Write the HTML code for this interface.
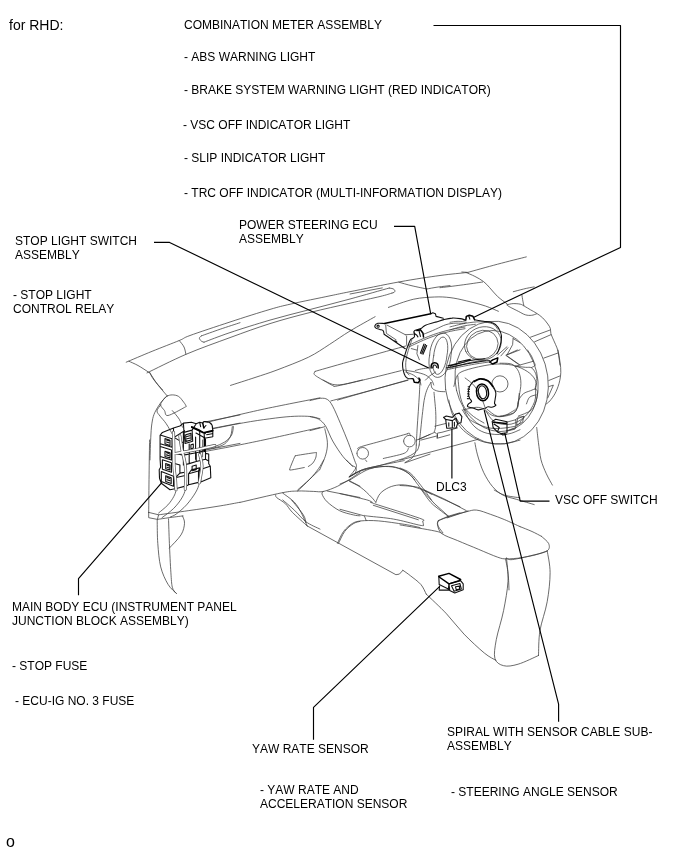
<!DOCTYPE html>
<html><head><meta charset="utf-8">
<style>
html,body{margin:0;padding:0;background:#fff;}
body{width:688px;height:852px;position:relative;overflow:hidden;font-family:"Liberation Sans",sans-serif;color:#000;}
.t{will-change:transform;position:absolute;font-size:12px;line-height:14px;white-space:nowrap;font-kerning:none;text-rendering:optimizeSpeed;}
svg{position:absolute;left:0;top:0;}
</style></head><body>
<svg width="688" height="852" viewBox="0 0 688 852" fill="none" stroke-linecap="round" stroke-linejoin="round">
<g stroke="#3a3a3a" stroke-width="0.75">
<path d="M126.2 362.2C130.5 360.4 143.2 354.9 152.1 351.3C160.9 347.7 173 343.1 179.3 340.5C185.6 337.9 181.6 338.6 190 335.5C198.4 332.4 216.7 326.4 230 322C243.3 317.6 259.8 312.4 270 309.4C280.2 306.4 281 306.3 291 304C301 301.7 320.2 297.9 330 295.8C339.8 293.8 338.4 294 350 291.7C361.6 289.4 384.8 284.5 399.8 281.8C414.8 279.1 428.9 277 440 275.5C451.1 274 461.8 273.1 466.2 272.6
M129 361.3C130.5 362 134.7 363.7 138 365.5C141.3 367.3 147 371.2 148.8 372.3
M149.5 372.3C150.2 373.6 151.8 377.1 154 380C156.2 382.9 161.2 388.3 162.7 390
M147 372.9C153.6 369.8 172.5 360.1 186.3 354.2C200.1 348.3 216.1 342.7 230 337.6C243.9 332.5 256.7 327.8 270 323.6C283.3 319.4 296.7 315.9 310 312.5C323.3 309.1 338.3 305.9 350 303.2C361.7 300.5 373 298.2 380 296.5C387 294.8 389.9 293.7 391.9 293.1
M391.9 293.1C392.3 293 393.7 292.7 394.2 292.3C394.7 291.9 395.1 291.3 394.9 290.7C394.7 290.1 394.1 289.2 393.1 288.8C392.2 288.3 389.9 288.2 389.3 288.1
M389.3 288C382.8 289.8 363.2 295.4 350 299C336.8 302.6 323.3 306 310 309.5C296.7 313 283.3 316.2 270 320.1C256.7 324 241 328.9 230 332.6C219 336.3 208.3 340.6 204 342.2
M204 342.2C203.6 342.1 202.3 341.8 201.6 341.3C200.9 340.8 200.1 339.9 199.8 339.3C199.4 338.7 199.2 338.1 199.5 337.6C199.8 337 201.3 336.1 201.6 335.8
M201.6 335.8C204.7 334.7 213.8 331.4 220.2 329.2C226.6 327 236.7 323.8 240 322.7
M350.1 294L382.3 287.9
M179.3 340.6C180.1 341.7 182.9 344.7 184 347C185.1 349.3 185.6 353 185.9 354.2
M398.9 282.2C401.1 282.8 407.3 284.7 412 285.8C416.6 286.9 424.3 288.4 426.8 289
M426.8 289C428.7 288.6 434.3 287.6 438.1 287C442 286.5 448 285.9 450 285.6
M388.4 307.4C392.6 306 406 300.9 413.7 299.2C421.4 297.5 428.6 297.3 434.7 297C440.8 296.7 444.8 297 450 297.6C455.2 298.2 460.3 299.4 466.2 300.8C472.1 302.2 480 304.2 485.4 306C490.8 307.8 496.2 310.4 498.4 311.3
M230.5 385.4C234.6 384.1 247.2 380.1 255 377.5C262.8 374.9 268.1 373.4 277 370C285.9 366.6 299.8 361.4 308.5 357.2C317.2 352.9 322.5 348.9 329.4 344.5C336.3 340.1 342.4 335.6 350 331C357.6 326.4 370.9 319.1 375.1 316.7
M461.8 272L467.9 272.4
M467.9 272.4C472.8 271 487.8 266.8 497.6 264.2C507.3 261.6 521.5 258.1 526.3 256.9
M466.2 272.6C467.6 273.2 472 274.9 474.9 276.4C477.8 277.9 481.1 279.7 483.6 281.6C486.1 283.5 487.4 285.3 489.7 287.7C492 290.2 494.7 293.8 497.6 296.5C500.5 299.2 505.6 302.7 507.2 304
M440 287.7C443.5 287.3 453.8 286.1 460.9 285.1C468.1 284.2 479.1 282.5 482.7 282
M507.1 304.7C508.1 304.5 511 303.7 513.2 303.6C515.4 303.6 518.5 303.7 520.3 304.2C522.2 304.6 522.7 305.3 524.4 306.2C526.1 307.1 528.5 308.6 530.5 309.8C532.6 310.9 534.6 312 536.6 313.3C538.7 314.7 540.9 316.1 542.7 317.9C544.6 319.7 546.5 322.2 547.8 324C549.1 325.8 549.9 327 550.4 328.6C550.9 330.2 550.3 331.6 550.9 333.7C551.5 335.7 552.9 338.4 553.9 340.8C554.9 343.2 556.2 345.7 557 347.9C557.7 350.1 558.2 353 558.5 354
M507.1 305.2C507.6 305.5 508.3 306.2 510.2 307.2C512 308.2 515.8 310 518.3 311.3C520.9 312.6 523.2 314.2 525.4 314.8C527.6 315.5 529.7 315.5 531.5 315.3C533.4 315.2 535.8 314.1 536.6 313.8
M513.3 291.7C515 291.3 520.2 289.8 523.7 289C527.2 288.1 532.4 287.2 534.2 286.9
M521.9 295C522 296 522.6 299.3 522.9 301.1C523.2 302.9 523.7 304.9 523.9 305.7
M149.7 372.6C151 374.5 154.6 380.6 157.5 384.4C160.4 388.3 165.5 393.9 167.1 395.8
M167.1 396.1C168.6 395.3 170.4 394.9 172.3 394.9C174.2 394.9 176.7 395.3 178.4 396.3C180.2 397.3 181.5 399.4 182.8 401C184 402.6 185.6 404.6 185.9 405.7C186.2 406.8 187.5 405.8 184.5 407.4C181.5 409.1 171.3 414.9 168 415.5C164.6 416 165.7 412.3 164.5 410.6C163.3 408.8 160.8 406.8 160.6 405C160.4 403.2 162.2 401.2 163.3 399.8C164.3 398.3 165.6 396.9 167.1 396.1Z
M165.7 397C164.8 398.1 161.9 401 160.1 403.6C158.3 406.2 156.2 409.4 154.9 412.3C153.6 415.2 152.9 417.3 152.3 421C151.6 424.8 151.2 428.5 150.9 435C150.5 441.5 150.1 455.8 150 459.9
M160.6 405C160 406 157.1 409.1 157 410.9C156.9 412.8 158.6 414 160.1 416.2C161.7 418.3 164.2 420.7 166.2 423.7C168.3 426.7 171.3 432.4 172.3 434.1
M172.3 410.6C173.5 412 177.6 416.5 179.3 419.3C181 422.1 181.9 425.8 182.4 427.2
M205.5 421.9L240 414.9
M212.4 428.4L240 423.1
M233.4 426.6C233.1 428 233.1 432.4 231.6 435C230.2 437.6 227.6 440 224.7 442C221.7 443.9 218 445.5 214.2 446.7C210.4 447.9 204 448.9 202 449.3
M202 450.7L240 443.4
M202.6 440L202.6 456.9
M175.5 480.1C175.6 481.7 176.3 487 176 489.8C175.7 492.6 175 494.2 173.7 496.7C172.3 499.2 170.4 502.2 167.9 504.9C165.4 507.6 160.2 511.6 158.6 513
M185.7 477.8C185.6 479.7 185.9 485.9 185.3 489.2C184.7 492.5 183.8 494.7 181.9 497.9C180 501.1 177 505.1 173.7 508.4C170.4 511.7 163.9 516.2 162 517.7
M202 466.2C201.6 469 200.3 478.5 199.3 482.8C198.3 487.1 197.9 488.4 195.8 492.1C193.7 495.8 189.8 501.2 186.5 504.9C183.2 508.6 178.7 512.2 176 514.2C173.3 516.2 171.2 516.5 170.2 517
M207 422.3C216 420.2 242.2 413.8 261 409.7C279.9 405.6 310.2 399.8 320 397.8
M213.1 428.7C218.2 427.7 234.2 424.4 243.6 422.8C253.1 421.1 261.9 419.8 269.8 418.8C277.6 417.7 284.9 416.9 290.7 416.5C296.5 416.1 300.9 416.1 304.7 416.2C308.4 416.2 310.8 416.6 313.4 417C315.9 417.5 318.9 418.5 320 418.8
M232.3 426.6C232 428.2 231.8 433.3 230.5 436.2C229.2 439.1 227.2 442.1 224.4 444.1C221.7 446 218 446.9 214 447.9C209.9 448.9 202.3 449.8 200 450.2
M200 452.4C208.7 450.8 232.3 446.5 252.3 442.3C272.3 438.2 308.7 430 320 427.5
M304.3 467.5C302.2 467.9 294 469.6 291.6 469.9C289.3 470.3 290.5 470 290.2 469.8C289.9 469.6 289.1 470.8 289.8 468.7C290.5 466.6 293.6 459.2 294.5 457.1C295.5 455 295 456.3 295.4 456C295.8 455.7 293.5 456 296.7 455.5C299.9 454.9 311.5 453.1 314.7 452.7C318 452.3 315.9 452.7 316.1 452.9C316.4 453.1 316.4 453.1 316.3 454C316.3 454.8 316.2 456.6 315.6 458.2C315 459.7 313.9 461.9 312.7 463.3C311.5 464.6 309.1 466 308.3 466.5
M297.7 489.9C299.7 488.1 306.2 482.4 309.9 479C313.6 475.5 318.3 471 320 469.4
M323.1 380C324.7 380.7 329.3 383.6 332.7 384.4C336 385.1 338.2 385.1 343.1 384.4C348.1 383.6 359.1 380.7 362.3 380
M310 400.6C311.7 400.2 317.6 398.5 320.5 398.3C323.4 398.1 325.4 398.2 327.4 399.5C329.5 400.8 330.5 402.2 332.7 406.2C334.9 410.2 337.9 417.5 340.5 423.6C343.1 429.7 346 436.7 348.4 442.8C350.7 448.9 353.2 456.2 354.5 460.2C355.8 464.3 357.1 464.4 356.2 467.2C355.3 470 350.4 475.2 349.2 476.8
M330.9 400.9C337.3 399.2 356.5 394.3 369.3 390.8C382.1 387.3 401.3 381.8 407.7 380
M310 416.6C311.5 417.1 316.1 417.6 318.7 419.2C321.3 420.8 323.4 422.6 325.7 426.2C328 429.9 329.8 436 332.7 441C335.6 446.1 339.8 452.5 343.1 456.7C346.5 461 351.1 464.7 352.7 466.3
M310 430.6L324.8 426.7
M319.9 469.3C320.9 466.9 324.4 459.4 325.7 455C326.9 450.6 327.6 447.2 327.4 442.8C327.3 438.4 325.3 431.2 324.8 428.8
M356.9 453.3a5.8 5.8 0 1 0 11.6 0a5.8 5.8 0 1 0-11.6 0M403.6 441.1a5.8 5.8 0 1 0 11.6 0a5.8 5.8 0 1 0-11.6 0
M358.8 449.8C359 449.3 355.6 448.7 359.7 447.2C363.8 445.6 375.3 442.8 383.3 440.5C391.2 438.3 403.6 434.9 407.7 433.7
M407.7 433.7C408 433.6 409 432.8 409.4 433.2C409.9 433.5 410.1 435.4 410.3 435.8
M383.3 458.5C386.7 457.6 400 455 404.2 453.3C408.4 451.5 407.8 448.9 408.5 448
M365.5 459.9L366.7 461.5
M349.2 476.8C351.4 475.6 357.2 471.7 362.3 469.8C367.4 467.9 374 466.8 379.8 465.5C385.6 464.2 393.1 462.8 397.2 462C401.3 461.2 403 460.8 404.2 460.6
M416.4 440.2L430 434.4
M405.1 462.8L430 454.1
M350.1 479.9C353.3 478.1 362.9 471.2 369.3 469C375.7 466.7 383.3 466.3 388.5 466.3C393.7 466.3 397.2 467.6 400.7 469C404.2 470.3 407.1 472.4 409.4 474.2C411.7 476 413.8 479 414.7 479.9
M406.4 345.8C398.8 347.9 375.6 354.3 361 358.4C346.5 362.4 326.8 368 319.2 370.2C311.6 372.4 316.2 371.1 315.3 371.6C314.5 372.2 314 372.7 314 373.4C314 374 314.2 374.5 315.3 375.5C316.5 376.4 318.3 377.4 320.9 379C323.6 380.5 329.2 383.7 331.4 384.9C333.6 386 333 385.8 334 385.9C335 386.1 331.5 387.2 337.5 385.9C343.5 384.7 359.2 381 369.8 378.4C380.4 375.9 395.9 371.9 401.2 370.6
M337.5 400.1C343.5 398.3 361.5 393.1 373.3 389.8C385 386.5 402.3 381.8 408.1 380.2
M385.7 324.9L386.4 333.4L396.2 339.9
M387 325.1L405.3 334.7
M406.6 336L406.6 344.5
M405.3 334.7L413.2 334.3
M411.8 339.9C411.5 340.7 410.9 342.7 410.3 344.5C409.7 346.3 408.9 348.2 408.2 350.6C407.5 353 406.6 356.2 406.2 358.8C405.8 361.3 405.6 363.7 405.7 365.9C405.8 368.1 406.1 370.5 406.7 372C407.3 373.5 408.8 374.5 409.2 375
M423.5 334.3C425.5 333.5 432 330.9 435.7 329.2C439.4 327.6 442.5 325.7 445.9 324.7C449.3 323.6 452.9 323.3 456 323.1C459.2 323 463.5 323.6 465 323.6
M408.2 345.5C411.6 344 422 338.9 428.6 336.4C435.2 333.8 441.8 331.8 447.9 330.3C454 328.7 462.2 327.5 465 327
M408.7 347C412.1 345.5 422.5 340.4 429.1 337.9C435.7 335.3 442.4 333.3 448.4 331.8C454.4 330.3 462.2 329.2 465 328.7
M450 322.3C451.4 322.1 455.4 321.3 458.1 321.3C460.9 321.3 464.9 322.1 466.3 322.3
M450 326.9C452.5 326.3 460.2 324.2 465.3 323.3C470.3 322.5 475.9 321.7 480.5 321.8C485.1 321.9 489.8 322.6 492.7 323.8C495.6 325.1 497 328.5 497.8 329.4
M450 329.9C452.4 329.2 460 326.8 464.2 325.9C468.5 324.9 473.6 324.6 475.4 324.3
M417.9 345.5L416.9 353.7L419.4 359.8
M411.3 348.6L416.9 350.1
M429.6 355.2a10.7 19.6 10 1 0 21.4 0a10.7 19.6 10 1 0-21.4 0M433.7 355.7a6.6 16.3 10 1 0 13.2 0a6.6 16.3 10 1 0-13.2 0
M467.8 351.6a16 13.8 -25 1 0 29.0 -13.5a16 13.8 -25 1 0 -29.0 13.5
M465.8 351.5a18.8 16.4 -25 1 0 34.1 -15.9a18.8 16.4 -25 1 0 -34.1 15.9
M428.6 367.9C427.4 368.1 423.7 368.5 421.5 368.9C419.2 369.3 416.4 370.2 415.3 370.5
M435.7 372C434.7 372.7 431.3 374.7 429.6 376C427.9 377.4 426.2 379.4 425.5 380.1
M403.1 369.9C405.2 370.3 411.6 371.1 415.3 372C419.1 372.8 422.8 373.7 425.5 375C428.2 376.4 430.3 378.5 431.6 380.1C433 381.8 433.3 384.2 433.7 385
M405.7 372C407 372.5 411 373.7 413.3 375C415.6 376.4 418.1 378.5 419.4 380.1C420.7 381.8 420.7 384.2 420.9 385
M450 368.1C453.4 367.1 464.4 363.8 470.3 362.5C476.3 361.2 483.1 360.8 485.6 360.5
M447.1 369.7C451.2 368.8 464.3 365.9 471.5 364.7C478.7 363.4 487 362.3 490.1 361.9
M497.8 354.9L507 346.7
M500.9 355.9L508 347.7
M507 354.9L520 349.8
M507 355.9L520 365
M513.1 338.6L520 342.6
M513.1 338.6L512.6 344.7L507 354.9
M445.6 389.5a51.5 61.7 -7.6 1 0 102.1 -13.6a51.5 61.7 -7.6 1 0 -102.1 13.6
M456.5 390.3a41.1 51.0 -13 1 0 80.1 -18.5a41.1 51.0 -13 1 0 -80.1 18.5
M465.1 378C466.7 379.3 471.7 382.5 474.5 386C477.3 389.5 480 395.4 481.8 399C483.6 402.6 484.6 406.3 485.1 407.8
M491.8 383.9a8.1 8.1 0 1 0 16.2 0a8.1 8.1 0 1 0-16.2 0
M453.9 386.4C454.6 384.4 455.5 377.5 457.8 374.6C460.2 371.8 463.1 371 468.3 369.4C473.5 367.8 483.1 365.7 489.2 364.8C495.3 363.9 500.1 363.8 504.9 364.2C509.7 364.5 513.9 365.2 518 366.8C522.2 368.3 526.9 370.9 529.8 373.3C532.7 375.7 534.8 378.5 535.7 381.2C536.6 383.8 535.1 387.9 535 389.3
M515.4 409.3C515 409.6 515 410.1 512.8 411.2C510.6 412.4 505.8 415.8 502.3 416.5C498.8 417.1 494.9 416.4 491.9 415.2C488.9 413.9 485.5 409.9 484.3 408.9
M457.8 375.9C458.2 379 458.7 389 459.8 394.2C460.9 399.5 462.1 403.6 464.4 407.3C466.7 411 470.3 413.9 473.5 416.5C476.8 419.1 482.3 421.9 484 423
M463.1 409.9C465.3 409.5 472.7 407.5 476.2 407.3C479.7 407.2 482.7 408.6 484 408.9
M558.5 354L560 365
M558 350C558.3 352 559.6 358.5 560 362.2C560.5 365.9 561 368.8 560.8 372.4C560.7 375.9 560 380 559 383.6C558 387.1 556.5 390.9 554.9 393.8C553.4 396.6 551.3 399.2 549.9 400.9C548.4 402.6 546.9 403.4 546.3 403.9
M530.5 337.2L549.9 330.1
M534.6 341.8L550.9 334.7
M543.8 358.1L558 353
M548.8 380.5L560 375.9
M548.8 386.6L553.4 385.1L547.8 397.8
M506.1 355.1L517.3 350
M506.1 355.6L518.3 364.2
M515.3 366.3L533.6 361.2
M500 363.2C501.7 363.3 507.6 363.1 510.2 363.7C512.7 364.3 513.7 365.2 515.3 366.8C516.8 368.4 518.4 370.6 519.3 373.4C520.3 376.2 520.9 379.8 520.9 383.6C520.9 387.3 519.9 391.9 519.3 395.8C518.7 399.7 518.3 404.1 517.3 407C516.3 409.9 516.1 411.6 513.2 413.1C510.3 414.6 502.2 415.6 500 416.1
M527.5 350C528.1 351 530.5 354.2 531.5 356.1C532.6 358 533 359.7 533.6 361.2C534.2 362.7 535.4 364.2 535.1 365.3C534.8 366.3 532.1 367.1 531.5 367.5
M515.3 366.3C517 366.4 522.7 367 525.4 367.3C528.1 367.6 529.8 366.8 531.5 367.8C533.2 368.8 534.7 371.3 535.6 373.4C536.5 375.5 536.8 378 536.8 380.5C536.8 383.1 535.8 387.3 535.6 388.7
M517.8 407C517.9 406 517.4 403.1 518.3 400.9C519.2 398.7 521.4 395.4 523.4 393.8C525.4 392.1 528.5 391.5 530.5 390.7C532.6 389.9 534.4 388.8 535.6 389.2C536.8 389.5 537.6 390.8 537.6 392.7C537.7 394.7 537.1 398 536.1 400.9C535.1 403.8 534.5 407.5 531.5 410C528.6 412.6 520.5 415.1 518.3 416.1
M526.5 403.9C527 402.8 527.9 398.8 529.5 397.3C531.1 395.8 535 395.2 536.1 394.8
M515.3 420L518.3 417.2L524.4 416.6L522.4 420
M535.6 388.7C535.4 390.9 536.3 397.1 534.6 401.7C532.9 406.2 529.4 412.3 525.5 416C521.6 419.7 516.3 423.1 511.2 424.1C506.1 425.1 499.1 424.3 494.9 422.1C490.7 419.9 487.3 412.8 485.8 410.9
M462.4 409.9C463.8 411.6 465.8 417.1 470.5 420.1C475.2 423.2 483.4 427.2 490.9 428.2C498.4 429.2 510.2 427.5 515.3 426.2C520.4 424.9 520.4 421.1 521.4 420.1
M536.7 427.5C537 430 537.7 436.9 538.4 442.3C539.2 447.7 539.7 454.5 541 459.8C542.4 465 544.4 469.5 546.3 473.7C548.2 477.9 551.4 483.2 552.4 485.1
M517.5 418.8L523.6 416.2L522.7 422.3L516.6 424.9L517.5 418.8
M506.2 422.3L515.8 419.7L515.8 427.5L506.2 431
M487 409.2C488.7 410.3 493.4 415.3 497.4 416.2C501.5 417 508.1 415.9 511.4 414.4C514.7 413 516.2 410.9 517.5 407.4C518.8 404 519 395.8 519.2 393.5
M507 431L514.9 429.2L515.8 427.5
M420 379C419.9 381.5 419.7 388.6 419.4 394.1C419.1 399.5 418.6 405.7 418.3 411.5C417.9 417.3 417.4 423.4 417.1 429C416.8 434.5 416.4 442.3 416.3 445
M416.3 445C416.2 446.2 416.2 449.8 415.5 452C414.8 454.2 413.8 456.2 412 458C410.2 459.8 406.2 461.8 405 462.5
M431 382.4C430.5 383.4 428.6 385.7 427.6 388.3C426.5 390.8 425.5 393.7 424.7 397.6C423.8 401.4 423.3 406.3 422.7 411.5C422 416.7 421.4 423.4 420.8 429C420.2 434.5 419.5 442.3 419.2 445
M419.2 445C418.9 445.8 418.5 448.5 417.5 450C416.5 451.5 414.6 452.9 413 454C411.4 455.1 409.8 455.8 407.7 456.7C405.6 457.6 405.3 457.9 400.7 459.4C396.1 460.9 386.2 463.8 379.8 465.5C373.4 467.2 367.4 467.9 362.3 469.8C357.2 471.7 351.4 475.6 349.2 476.8
M434 392.3C434.2 395.5 435.4 406 435.7 411.5C436 417 435.9 422.2 435.7 425.5C435.5 428.8 434.7 430.3 434.5 431.3
M431 382.4C431.2 383.4 431 386.8 432.2 388.3C433.4 389.7 435.9 390.6 438 391.2C440.2 391.7 443.8 391.6 445 391.7
M418.8 439.4L434.5 432.4
M434.5 431.9L437.4 434.8L436.9 438.3L449.7 434.8
M434.9 426.2L445.7 423.5
M437.5 437.5L437.5 433.1L441.9 432.3L457.6 427.9
M400 460.2L478.5 439.2
M420.9 440.1L437.5 435.8
M448.8 400C449.4 402.3 450.3 409.3 452.3 414C454.4 418.6 457.6 424 461 427.9C464.5 431.8 468.9 435 473.3 437.5C477.6 440 482 441.7 487.2 442.7C492.4 443.8 499.2 444 504.7 443.6C510.1 443.2 517.4 440.7 520 440.1
M463.7 408.7C464.7 410.8 467.3 417.4 469.8 420.9C472.2 424.4 475 427.5 478.5 429.7C482 431.8 485.8 433.3 490.7 434C495.6 434.7 503.3 434.7 508.1 434C513 433.3 518 430.4 520 429.7
M474.9 442.7C475.3 444.7 476.1 450 477.5 454.9C478.9 459.8 481.1 467.1 483.6 472.3C486.1 477.5 489.1 482.5 492.3 486.3C495.5 490.1 498.7 492.8 502.8 495C506.9 497.2 511.5 497.8 516.7 499.4C521.9 501 531.3 503.7 534.2 504.6
M400 468C401.7 468.9 407 470.3 410.5 473.3C414 476.2 417.4 481 420.9 485.5C424.4 489.9 429.7 497.5 431.4 499.9
M400 485.5C402.9 485.8 412.2 485.8 417.4 487.2C422.7 488.7 429.1 493 431.4 494.2
M149.6 440C149.5 445.8 149.2 462.8 149.1 474.9C148.9 486.9 148.8 506.1 148.7 512.4
M148.7 512.4L148.7 517.7L157.4 519.4L158.6 514.8L148.7 512.4
M157.4 519.4C159.4 519.1 164.8 518.3 169.1 517.7C173.3 517.1 180.7 516.2 183 515.9
M158.7 514.8C163.7 514.1 178.6 512.1 188.8 510.6C199.1 509.2 211.5 507.3 220.1 505.9C228.6 504.5 236.6 502.9 239.9 502.3
M157.2 520.3C157.3 524.2 157.2 535.9 157.8 543.6C158.4 551.4 159 560.1 160.7 566.9C162.4 573.6 165.3 579.8 168 584.3C170.6 588.8 175.2 592.1 176.7 593.6
M168.5 518.9C168.7 523 169 534.6 169.4 543.6C169.8 552.6 170.4 565.4 170.9 572.7C171.4 579.9 171.5 583.8 172.3 587.2C173.1 590.6 175.2 592.1 175.8 593
M182.5 516C182.8 517.2 184.8 520.1 184.5 523.3C184.3 526.4 183.6 530.8 181 534.9C178.5 539 171.4 545.8 169.4 548
M282.8 500C284.7 501.7 290.5 506.5 294.4 510.2C298.3 513.8 301.8 518.7 306 521.8C310.3 525 317.7 527.9 320 529.1
M291.5 500C293.4 502.4 300.7 510.8 303.1 514.5C305.6 518.3 305.6 521.3 306 522.7
M240 502.4C247 500.8 272.3 494.7 281.9 492.8C291.5 490.9 292.3 491.3 297.6 491C302.8 490.8 308.9 491.3 313.3 491.4C317.6 491.5 319.7 492.3 323.7 491.4C327.8 490.5 333.3 488.2 337.7 486.2C342 484.1 346.2 481.5 349.9 479.2C353.6 476.9 358.3 473.4 360 472.2
M297.6 491C299.6 489.1 306.3 482.9 309.8 479.2C313.3 475.5 316.2 471.9 318.5 468.7C320.8 465.5 322.8 461.5 323.7 460
M323.7 491.4C323.4 491.8 321.4 492.3 322 494C322.6 495.8 324.3 499.1 327.2 501.9C330.1 504.6 335.1 508.4 339.4 510.6C343.8 512.8 349.9 514.1 353.4 514.9C356.8 515.8 358.9 515.7 360 515.8
M327.2 491L360 497.5
M275.8 494.9C275.9 495.3 275 496 276.6 497.5C278.2 499 282.7 501.1 285.3 503.6C288 506.1 288.7 508.6 292.3 512.3C296 516 304.7 523.7 307.2 525.9
M282.7 493.1C284.6 494.6 291 498.7 294.1 501.9C297.1 505.1 298.9 508.3 301 512.3C303.2 516.3 306.1 523.7 307.2 525.9
M338.5 543.4C339.6 541.4 342.2 534.8 344.7 531.5C347.1 528.2 350.8 525.3 353.4 523.7C355.9 522 358.9 521.8 360 521.4
M346.4 460C347.3 460.9 350 463.9 351.6 465.2C353.2 466.5 355.4 466.5 356 467.8C356.6 469.2 356.2 471.6 355.1 473.1C354 474.5 350.5 476 349.5 476.6
M349 480.6L360 486.2
M349.6 477C351.5 476 356.7 472.5 360.9 470.9C365.1 469.3 370.2 468.2 374.9 467.4C379.5 466.7 384.5 466.3 388.8 466.6C393.2 466.9 397.6 467.9 401 469.2C404.5 470.5 407.2 472.1 409.8 474.4C412.4 476.7 414.9 480.7 416.7 483.1C418.6 485.6 418.8 486 421.1 489.2C423.4 492.4 427.4 498.7 430.7 502.3C434 506 438.3 508.7 441.2 511C444.1 513.4 447 515.4 448.1 516.3
M375.8 502.3C376.5 500.9 377.9 496.1 380.1 493.6C382.3 491.1 385.6 489 388.8 487.5C392 486 395.8 485.2 399.3 484.9C402.8 484.6 406.1 485 409.8 485.8C413.4 486.5 419.2 488.7 421.1 489.2
M421.1 489.2L460 506.7
M340 484L350.5 479.7
M349.6 481.4C351.5 482.4 357.3 484.9 360.9 487.5C364.6 490.1 368.9 494.6 371.4 497.1C373.9 499.6 375 501.5 375.8 502.3
M340 493.6C344.4 494.6 360.8 498.3 366.2 499.7C371.5 501.2 371.2 501.9 372.3 502.3
M340 509.3L364.4 515.9L366.2 520.6
M448.1 516.3L460 512.8
M448.1 516.3C446.8 516.9 442 518.8 440.3 519.8C438.5 520.8 438 521.2 437.7 522.4C437.4 523.5 437.7 525 438.5 526.7C439.4 528.5 442.2 531.8 442.9 532.8
M371.8 502.4C372.3 502.6 366.7 501.1 374.7 503.8C382.7 506.5 411.8 515.4 419.8 518.3C427.8 521.2 422.1 520.1 422.7 521.2C423.3 522.4 423.3 524.5 423.4 525.2
M373.3 505.3L418.3 519.8
M364.5 515.4C365.3 515.6 364.1 515.6 368.9 516.2C373.7 516.8 385.4 517.6 393.6 519.1C401.8 520.5 413.3 523.8 418.3 524.9C423.3 526 422.6 525.5 423.4 525.6
M307 525.8L395.9 574.7L399.4 574.1L402.9 570.3
M337.5 543.3C338.5 541.3 341.1 534.7 343.6 531.4C346.1 528.1 349.4 525.3 352.3 523.5C355.2 521.8 356.7 521.4 361 520.9C365.4 520.5 371.2 520.3 378.5 520.9C385.8 521.5 397.7 523.3 404.7 524.4C411.6 525.5 417.4 527 420 527.6
M438.4 520.5C440.4 519.8 445.9 517.6 450.6 516.2C455.2 514.7 461.9 512.8 466.3 511.8C470.6 510.8 472.7 509.6 476.7 510.1C480.8 510.5 486 512.8 490.7 514.4C495.3 516 499.8 517.6 504.7 519.7C509.5 521.7 517.4 525.5 520 526.6
M447.1 517.9L468 510.9
M438.4 520.5C438.2 521.2 436.9 522.7 437.5 524.9C438.1 527.1 438.5 531 441.9 533.6C445.2 536.2 451.5 538 457.6 540.6C463.7 543.2 471.8 546.5 478.5 549.3C485.2 552.1 493 555.6 497.7 557.2C502.3 558.8 502.7 558.8 506.4 558.9C510.1 559 517.7 558.2 520 558
M421.8 490L434.9 504L448.8 516.5
M424.4 490L443.6 498.7L466.3 510.6
M494.2 490C495.9 490.9 500.3 493.9 504.7 495.2C509 496.5 517.4 497.4 520 497.8
M505.5 558.9C506 561.4 507.6 568.5 508.1 573.7C508.7 578.9 508.9 587.2 509 589.9
M400 524.9C405.8 525.9 427.9 529.5 434.9 531C441.9 532.4 440.7 533.2 441.9 533.6
M402.9 570.3C404.2 571.2 407.5 573.4 410.5 575.8C413.5 578.2 418.3 581.5 420.9 584.5C423.5 587.5 425.3 592.5 426.2 594.1
M541.4 536.3C542.6 537.5 547.7 541.2 548.7 543.6C549.6 546 549.9 548.9 547.2 550.9C544.5 552.8 538.5 553.8 532.7 555.2C526.9 556.7 516.7 559.1 512.3 559.6C508 560.1 507.5 558.4 506.5 558.1
M506.5 558.1C506.8 562 508.4 572.7 508 581.4C507.5 590.1 505.5 600.8 503.6 610.5C501.7 620.2 497.8 631.5 496.3 639.5C494.9 647.5 493.7 654.1 494.9 658.4C496.1 662.8 499.7 664.7 503.6 665.7C507.5 666.7 512.3 665.9 518.1 664.2C524 662.5 535.1 657 538.5 655.5
M547.2 550.9C547.7 554.5 550.1 564.2 550.1 572.7C550.1 581.2 548.9 592.1 547.2 601.7C545.5 611.4 541.4 621.9 539.9 630.8C538.5 639.8 538.7 651.4 538.5 655.5
M426.2 594.1C429.6 597.4 440.2 607.1 446.5 613.8C452.8 620.5 457.7 627.6 464 634.1C470.3 640.6 479 648.6 484.3 653C489.6 657.4 494 659.1 495.9 660.3
M520 526.6C522 527.4 528.4 529.9 532 531.5C535.6 533.1 539.8 535.5 541.4 536.3
M520 558C522.5 557.5 530.5 556.2 535 555C539.5 553.8 545.2 551.6 547.2 550.9"/>
</g>
<g stroke="#111" stroke-width="1.1">
<path d="M160.1 435.3L162.4 432.4L173.5 428L179.9 426L183.4 423.1L191.5 422.2L196.2 423.7L199.7 422.2L202.6 423L204.1 421.5L209.2 422.2L212.1 425.2L212.8 430.6L212.8 436.7L204.4 438.3L205.5 439.4L205.5 453.4L208.7 454L208.7 463.8L210.3 466.2L210.8 477.8L200.8 481.9L198.5 482.4L188.6 484.8L186.3 485.9L176.4 488.5L170 489.7L161.3 483.3L159.5 478.4L159.2 469.7L160.6 467.3L160.1 459.2L160.1 435.3
M160.3 435L172 438.8L172 447.3L160.3 443.7
M165 438.6L170 440.2L170 445.5L165 443.8L165 438.6
M160.3 446.4L171.5 449.9L171.5 460.1L160.3 456.5
M165 451.3L170 452.7L170 458L165 456.5L165 451.3
M162.4 459.8L171.5 462.7L171.5 472.2L162.4 469.3L162.4 459.8
M165.7 463.5L170 464.9L170 470.1L165.7 468.7L165.7 463.5
M161.3 471.6L173.5 476.3L173.5 486.2L161.3 481.5L161.3 471.6
M165.7 475.7L171.2 477.8L171.2 483.6L165.7 481.5L165.7 475.7
M166.5 440L168.8 440.8
M166.5 442L168.8 442.8
M166.5 452.8L168.8 453.5
M166.5 454.9L168.8 455.6
M167.1 465.2L169.1 465.9
M167.1 467.3L169.1 468
M167.1 477.6L170 478.7
M167.1 479.7L170 480.8
M172 438.8L179.9 433.6L184.5 430.7
M173.5 437.1L183.4 442.9L183.4 431.3
M173.5 428L173.5 437.1
M184 432.4L192.1 430.1L192.7 441.2L185.1 443.5L184 432.4
M185.7 434.8L190.9 433.4L191.2 440L186 441.4L185.7 434.8
M186.9 436.5L189.8 435.7
M187.1 438.8L190 438
M183.4 423.1L184 432.4
M192.1 430.1L196.2 423.7
M191.5 426.6L199.7 430.1L205.5 433.6
M204.1 432.8L204.4 438.3L212.8 436.7L212.8 430.6
M202.6 423C202.8 422.8 203 421.6 204.1 421.5C205.2 421.4 207.8 421.6 209.2 422.2C210.5 422.8 211.5 423.8 212.1 425.2C212.7 426.6 212.7 429.7 212.8 430.6
M203.8 427.8L205.9 425.5
M206.6 432.4L212.1 431.4
M206.6 434.7L212.1 433.7
M196 433.1L204.1 437.6
M199.7 422.2L200.6 426.6
M195.6 437.1L195.6 459.2
M199.7 430.1L199.7 458
M189.2 444.1L189.2 453.4
M190.9 444.7L193.3 444.1L193.3 448.1L190.9 448.7L190.9 444.7
M183.4 442.9L183.4 453.4
M175.5 453.4L183.4 455.1L196.2 452.8L205.5 450.5
M175.5 463.8L179.9 465L179.9 473.1
M183.4 455.1L183.4 465L189.2 463.6L189.2 455.1
M189.2 463.6L196.2 461.5L196.2 452.8
M196.2 461.5L205.5 459.2L208.7 460.9
M192.1 466.2L196.2 465L196.2 469.7L192.1 470.8L192.1 466.2
M175.2 477.8L186.3 475.2L186.3 485.9
M175.2 477.8L175.2 488.5
M175.2 477.8L179.9 473.1L186.3 472L186.3 475.2
M188.6 473.7L198.5 471L198.5 482.4
M188.6 473.7L188.6 484.8
M188.6 473.7L191.5 469.7L199.7 467.9L198.5 471
M199.7 469.7L210.1 466.2
M199.7 469.7L200.8 481.9
M179.9 473.1L179.9 465
M205.5 453.4L205.5 459.2
M384.4 323.5C383.3 323.5 379.4 323 377.8 323.3C376.3 323.6 375.3 324.7 375 325.5C374.6 326.3 375.1 327.5 375.9 328.1C376.7 328.8 378.6 329 379.8 329.4C381 329.9 382.4 329.9 383.1 330.7C383.8 331.5 384 333.7 384.1 334.3
M377 326.2a1.1 1.1 0 1 0 2.2 0a1.1 1.1 0 1 0-2.2 0
M384.1 334.3L405.3 348.7
M394.9 340.8L396.8 341.9
M430.8 313.7L432.8 312.8L435.4 313.7L436.1 316.4
M436.1 316.4L443.3 318.3
M413.8 331.8C414.1 331.5 414.1 330.9 415.3 330.3C416.6 329.7 419.8 329.1 421.5 328.2C423.1 327.4 423.1 326.2 425.5 325.2C427.9 324.2 432.6 323.1 435.7 322.1C438.8 321.2 441.1 320.3 443.8 319.6C446.6 318.9 449.3 318.2 452 318.1C454.7 317.9 457.9 318.3 460.1 318.6C462.3 318.9 464.2 319.7 465 319.9
M464 320.3L465.3 320.3
M474.4 319.8C475.9 320 480.9 320.9 483.6 321.3C486.3 321.7 488.7 321.7 490.7 322.3C492.7 322.9 494.3 323.7 495.8 324.8C497.2 326 498.4 327.6 499.3 329.4C500.3 331.2 501.1 333.3 501.4 335.5C501.6 337.7 501.3 340.3 500.9 342.6C500.4 345 499.5 347.9 498.8 349.8C498.2 351.6 497.1 353.2 496.8 353.8
M468.8 316L469.8 319.2
M413.8 331.8L414.8 333.8L416.9 335.3L417.9 336.9
M418.9 330.3L420.4 336.4
M413.8 331.8C413.9 332.6 414.8 335.6 414.3 336.9C413.8 338.1 411.6 338.5 410.8 339.4C409.9 340.4 409.8 341.1 409.2 342.5C408.7 343.8 408 345.4 407.2 347.6C406.4 349.8 405.4 353.2 404.7 355.7C403.9 358.2 402.9 360.4 402.6 362.8C402.4 365.2 402.7 367.7 403.1 369.9C403.6 372.1 404.3 374.6 405.2 376C406 377.5 407 378.2 408.2 378.6C409.5 379 412 378.6 412.8 378.6
M425.5 344.5L421.7 353.7
M424 344L420.4 353.2
M426.7 345.5L423 354.2
M432.6 367.9C432.8 367.5 433.2 365.8 433.7 365.4C434.2 364.9 435.2 365 435.7 365.4C436.2 365.7 436.5 367.1 436.7 367.4
M450 366C453.4 365.1 464.6 361.7 470.3 360.5C476.1 359.2 482.2 359 484.6 358.7
M458.1 362L470.3 359.4
M447.9 365.9C449.3 365.5 453.2 364.5 456 363.8C458.9 363.2 463.5 362.3 465 362
M446.5 367.9C450.7 367.1 464.3 364.3 471.5 363C478.7 361.8 486.5 360.9 489.5 360.5
M473.5 381.2C474.6 380.7 477.7 378.7 480.1 378.5C482.5 378.4 485.8 379.2 487.9 380.5C490.1 381.8 491.9 384.3 493.2 386.4C494.5 388.5 495.5 390.8 495.8 392.9C496.1 395.1 495.3 397.7 495.1 399.5C494.9 401.2 494.4 402.4 494.5 403.4C494.6 404.4 496.2 404.7 495.8 405.4C495.3 406 493.2 407.1 491.9 407.3C490.6 407.5 489 406.5 487.9 406.7C486.8 406.8 485.8 408.1 485.3 408.4
M473.5 381.2C472.9 382 470.5 384.4 469.6 386.4C468.8 388.4 468.3 391 468.3 392.9C468.3 394.9 469.1 396.8 469.6 398.2C470.2 399.6 471.8 400.5 471.6 401.4C471.4 402.4 469 403.2 468.3 404.1C467.7 404.9 466.9 406 467.7 406.7C468.4 407.3 471.1 407.4 472.9 408C474.6 408.5 476.3 409.8 478.1 409.9C480 410.1 483 408.9 484 408.6
M469.6 387L468.1 386.8
M469.5 389.4L467.9 389.1
M469.4 391.8L467.8 391.5
M469.2 394.1L467.7 393.9
M469.1 396.5L467.5 396.2
M469 398.8L467.4 398.6
M478.5 392.3a4 5.8 -10 1 0 8 0a4 5.8 -10 1 0-8 0
M492.2 421.4L495.7 419.3L507 421.7L507 432.7L500.9 433.6L497.4 431.9L493.1 427.5L492.2 421.4
M494 424L499.2 427.5L497.4 431.9
M500.9 433.6L502.7 435L506.2 434.5
M443.6 417.4L446.2 416L452.3 417.4L455.8 414L459.3 413.1L461.9 416.6L461 422.7L457.6 423.5L456.2 427.9L446.7 428.3L445.7 419.5L443.6 417.4
M446.2 419.5L452.3 420.6L456.2 418.3L457.6 423.5
M452.3 420.6L452.3 427.9
M448.8 422.7L448.8 426.2
M454.4 422.3L454.4 426.2
M438.8 576.3L439.2 584.6L448.3 589L449 583.9
M439.5 586.1L439.2 590.1L449 590.1L448.3 589
M449 583.9L460.6 580.6L463.2 583.9L463.2 589.7L454.8 593L449.7 590.4L449 583.9
M451.5 585.7L459.9 583.5L461.3 589L454.1 591.2L451.5 585.7
M455.5 586.8L459.5 586.1L459.5 589L456.2 589.7L455.5 586.8"/>
</g>
<g stroke="#000" stroke-width="1.5">
<path d="M191.7 427.3L203.4 432.8L212.8 430.6
M202.8 423.4L203.8 427.8
M204.4 437.6L204.4 451.3
M384.4 323.5L430.8 313.7
M465.8 320.1L466.3 316.4L469.3 315.2L472.9 316.2L474.6 319.8
M416.9 330.5L420.4 329.8L423 333.3L423.5 336.9
M413.3 379.1L414.3 382.2L418.4 382.7L419.9 380.1L418.9 378.1
M431.1 367.9C431.2 367.3 431 365.2 431.6 364.3C432.2 363.5 433.7 362.8 434.7 362.8C435.7 362.8 437.1 363.5 437.7 364.3C438.3 365.2 438.2 367.3 438.2 367.9
M489.7 362L492.7 359.9L497.8 357.9L497 362L492.7 364L489.7 362
M474.2 381.6C475.2 381.1 478.1 379 480.3 378.9C482.6 378.8 485.6 379.7 487.7 380.9C489.7 382.1 491.7 385.3 492.5 386.1
M476.6 392.3a5.9 7.6 -10 1 0 11.8 0a5.9 7.6 -10 1 0-11.8 0
M493.6 422.3L506.2 423.5
M438.8 576.3L449 573.4L460.6 579.5L459.2 580.6L449 583.9L439.2 577"/>
</g>
<g stroke="#555" stroke-width="3.1">
<path d="M173.5 432.4C173.6 435.3 173.7 444.1 173.8 449.9C173.9 455.7 173.8 462.3 174.1 467.3C174.4 472.3 175.2 476.4 175.5 480.1C175.8 483.9 175.9 488.2 176 489.8
M179.9 435.9C180.2 438.2 181.1 445.2 182 449.9C182.9 454.5 184.5 459.1 185.1 463.8C185.7 468.5 185.7 473.6 185.7 477.8C185.7 482 185.4 487.3 185.3 489.2
M199.7 454.5C200.1 456.4 202.1 461.5 202 466.2C201.9 470.9 199.8 480 199.3 482.8
M175.5 453.6C178.9 452.9 189.6 451 196.2 449.7C202.7 448.3 211.7 446.2 214.8 445.5"/>
</g>
<g stroke="#fff" stroke-width="1.7">
<path d="M173.5 432.4C173.6 435.3 173.7 444.1 173.8 449.9C173.9 455.7 173.8 462.3 174.1 467.3C174.4 472.3 175.2 476.4 175.5 480.1C175.8 483.9 175.9 488.2 176 489.8
M179.9 435.9C180.2 438.2 181.1 445.2 182 449.9C182.9 454.5 184.5 459.1 185.1 463.8C185.7 468.5 185.7 473.6 185.7 477.8C185.7 482 185.4 487.3 185.3 489.2
M199.7 454.5C200.1 456.4 202.1 461.5 202 466.2C201.9 470.9 199.8 480 199.3 482.8
M175.5 453.6C178.9 452.9 189.6 451 196.2 449.7C202.7 448.3 211.7 446.2 214.8 445.5"/>
</g>
<g stroke="#000" stroke-width="1.15" stroke-linecap="butt">
<path d="M433.5 25.5L620.5 25.5L620.5 247.4L473.4 317.4
M394 226.3L414.7 226.3L430.7 313.8
M154 242.4L169.6 242.4L428.7 368.1
M78.5 595.2L78.5 578.7L162 482.3
M451.9 478.4L451.9 429
M549.5 501.1L520.2 501.1L504.7 432.8
M558.6 721.8L558.6 704.1L484.2 410.2
M313.5 739.7L313.5 707.4L440 586.2"/>
</g>
</svg>
<div class="t" id="a0" style="left:9px;top:17px;font-size:14px;line-height:16px;">for RHD:</div>
<div class="t" id="a1" style="left:184px;top:18px;">COMBINATION METER ASSEMBLY</div>
<div class="t" id="a2" style="left:184px;top:50px;">- ABS WARNING LIGHT</div>
<div class="t" id="a3" style="left:184px;top:83px;">- BRAKE SYSTEM WARNING LIGHT (RED INDICATOR)</div>
<div class="t" id="a4" style="left:183px;top:118px;">- VSC OFF INDICATOR LIGHT</div>
<div class="t" id="a5" style="left:184px;top:151px;">- SLIP INDICATOR LIGHT</div>
<div class="t" id="a6" style="left:184px;top:186px;">- TRC OFF INDICATOR (MULTI-INFORMATION DISPLAY)</div>
<div class="t" id="a7" style="left:239px;top:218px;">POWER STEERING ECU<br>ASSEMBLY</div>
<div class="t" id="a8" style="left:15px;top:234px;">STOP LIGHT SWITCH<br>ASSEMBLY</div>
<div class="t" id="a9" style="left:13px;top:288px;">- STOP LIGHT<br>CONTROL RELAY</div>
<div class="t" id="a10" style="left:436px;top:480px;">DLC3</div>
<div class="t" id="a11" style="left:555px;top:493px;">VSC OFF SWITCH</div>
<div class="t" id="a12" style="left:12px;top:600px;">MAIN BODY ECU (INSTRUMENT PANEL<br>JUNCTION BLOCK ASSEMBLY)</div>
<div class="t" id="a13" style="left:12px;top:659px;">- STOP FUSE</div>
<div class="t" id="a14" style="left:15px;top:694px;">- ECU-IG NO. 3 FUSE</div>
<div class="t" id="a15" style="left:252px;top:742px;">YAW RATE SENSOR</div>
<div class="t" id="a16" style="left:260px;top:783px;">- YAW RATE AND<br>ACCELERATION SENSOR</div>
<div class="t" id="a17" style="left:447px;top:725px;">SPIRAL WITH SENSOR CABLE SUB-<br>ASSEMBLY</div>
<div class="t" id="a18" style="left:451px;top:785px;">- STEERING ANGLE SENSOR</div>
<div class="t" id="a19" style="left:5.8px;top:833px;font-size:16px;line-height:18px;">o</div>
</body></html>
